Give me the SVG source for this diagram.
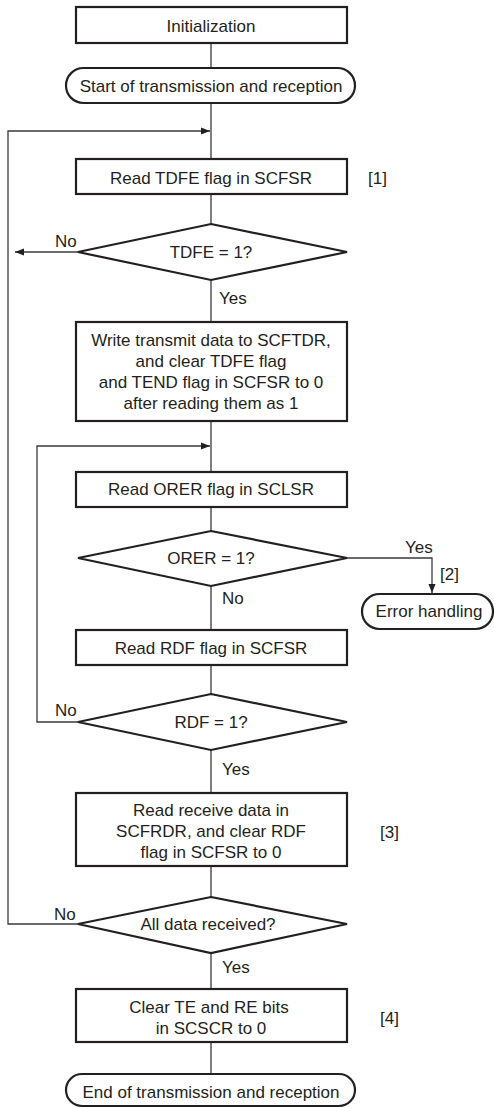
<svg xmlns="http://www.w3.org/2000/svg" width="494" height="1108" viewBox="0 0 494 1108">
<style>
.box{fill:#fff;stroke:#231f20;stroke-width:2.2}
.ln{fill:none;stroke:#3a3a3a;stroke-width:1.3}
.t{font-family:"Liberation Sans",Arial,sans-serif;font-size:17px;fill:#231f20}
.c{text-anchor:middle}
</style>
<defs>
<marker id="ah" markerWidth="10" markerHeight="8" refX="9" refY="4" orient="auto" markerUnits="userSpaceOnUse">
<path d="M0,0.5 L9,4 L0,7.5 Z" fill="#231f20"/>
</marker>
</defs>
<rect width="494" height="1108" fill="#fff"/>
<g id="connectors">
<line class="ln" x1="211" y1="43" x2="211" y2="68"/>
<line class="ln" x1="211" y1="103" x2="211" y2="159"/>
<line class="ln" x1="211" y1="194" x2="211" y2="224"/>
<line class="ln" x1="211" y1="280" x2="211" y2="322"/>
<line class="ln" x1="211" y1="421" x2="211" y2="472"/>
<line class="ln" x1="211" y1="507" x2="211" y2="531"/>
<line class="ln" x1="211" y1="586" x2="211" y2="630"/>
<line class="ln" x1="211" y1="665" x2="211" y2="694"/>
<line class="ln" x1="211" y1="750" x2="211" y2="793"/>
<line class="ln" x1="211" y1="866" x2="211" y2="897"/>
<line class="ln" x1="211" y1="953" x2="211" y2="989"/>
<line class="ln" x1="211" y1="1042" x2="211" y2="1074"/>
<polyline class="ln" points="78,924 8,924 8,131 210,131" marker-end="url(#ah)"/>
<line class="ln" x1="78" y1="252" x2="15" y2="252" marker-end="url(#ah)"/>
<polyline class="ln" points="78,722 37,722 37,446 210,446" marker-end="url(#ah)"/>
<polyline class="ln" points="347,558 432,558 432,593" marker-end="url(#ah)"/>
<text class="t" x="55" y="247">No</text>
<text class="t" x="219" y="304">Yes</text>
<text class="t" x="405" y="553">Yes</text>
<text class="t" x="440" y="580">[2]</text>
<text class="t" x="222" y="604">No</text>
<text class="t" x="55" y="716">No</text>
<text class="t" x="222" y="775">Yes</text>
<text class="t" x="54" y="920">No</text>
<text class="t" x="222" y="973">Yes</text>
</g>
<g id="init">
<rect class="box" x="76" y="7" width="271" height="36"/>
<text class="t c" x="211" y="32">Initialization</text>
</g>
<g id="start">
<rect class="box" x="66" y="68" width="289" height="35" rx="17.5"/>
<text class="t c" x="211" y="92">Start of transmission and reception</text>
</g>
<g id="readTDFE">
<rect class="box" x="76" y="159" width="271" height="35"/>
<text class="t c" x="211" y="184">Read TDFE flag in SCFSR</text>
<text class="t" x="368" y="184">[1]</text>
</g>
<g id="tdfe">
<polygon class="box" points="211,224 347,252 211,280 78,252"/>
<text class="t c" x="211" y="258">TDFE = 1?</text>
</g>
<g id="write">
<rect class="box" x="76" y="322" width="271" height="99"/>
<text class="t c" x="211" y="346">Write transmit data to SCFTDR,</text>
<text class="t c" x="211" y="367">and clear TDFE flag</text>
<text class="t c" x="211" y="388">and TEND flag in SCFSR to 0</text>
<text class="t c" x="211" y="409">after reading them as 1</text>
</g>
<g id="readORER">
<rect class="box" x="76" y="472" width="271" height="35"/>
<text class="t c" x="211" y="495">Read ORER flag in SCLSR</text>
</g>
<g id="orer">
<polygon class="box" points="211,531 347,558 211,586 78,558"/>
<text class="t c" x="211" y="564">ORER = 1?</text>
</g>
<g id="error">
<rect class="box" x="362" y="594" width="131" height="35" rx="17.5"/>
<text class="t c" x="429" y="617">Error handling</text>
</g>
<g id="readRDF">
<rect class="box" x="76" y="630" width="271" height="35"/>
<text class="t c" x="211" y="654">Read RDF flag in SCFSR</text>
</g>
<g id="rdf">
<polygon class="box" points="211,694 347,722 211,750 78,722"/>
<text class="t c" x="211" y="728">RDF = 1?</text>
</g>
<g id="readData">
<rect class="box" x="76" y="793" width="271" height="73"/>
<text class="t c" x="211" y="816">Read receive data in</text>
<text class="t c" x="211" y="837">SCFRDR, and clear RDF</text>
<text class="t c" x="211" y="858">flag in SCFSR to 0</text>
<text class="t" x="380" y="838">[3]</text>
</g>
<g id="allData">
<polygon class="box" points="211,897 347,924 211,953 78,924"/>
<text class="t c" x="208" y="930">All data received?</text>
</g>
<g id="clear">
<rect class="box" x="76" y="989" width="271" height="53"/>
<text class="t c" x="209" y="1013">Clear TE and RE bits</text>
<text class="t c" x="211" y="1034">in SCSCR to 0</text>
<text class="t" x="380" y="1024">[4]</text>
</g>
<g id="end">
<rect class="box" x="66" y="1074" width="289" height="32" rx="16"/>
<text class="t c" x="211" y="1098">End of transmission and reception</text>
</g>
</svg>
